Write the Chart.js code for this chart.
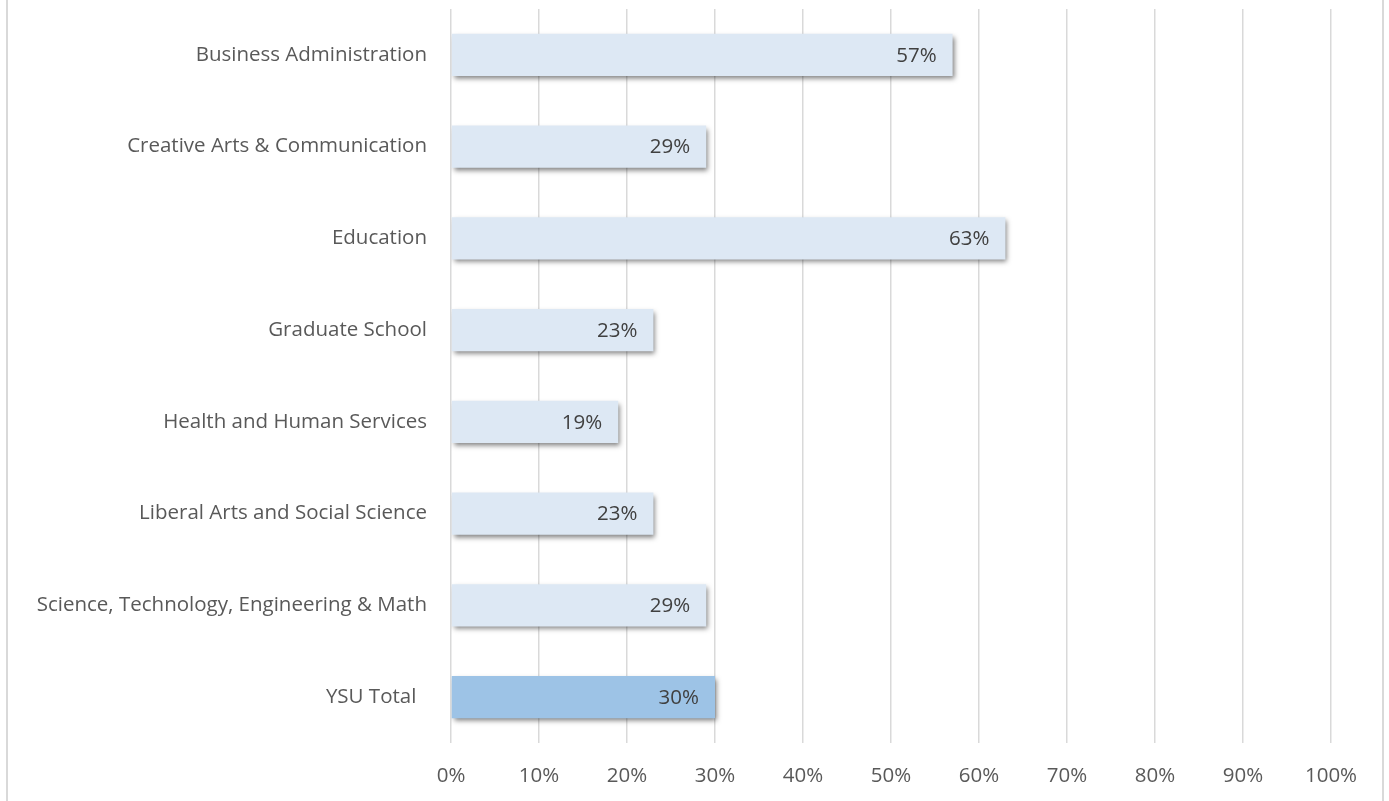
<!DOCTYPE html>
<html>
<head>
<meta charset="utf-8">
<script src="https://cdn.jsdelivr.net/npm/chart.js@4"></script>
<style>
    html, body { margin: 0; padding: 0; background: #fff; }
    #wrap {
        position: relative;
        width: 1389px;
        height: 801px;
    }
    #frame {
        position: absolute;
        left: 6px; top: -2px;
        width: 1378px; height: 810px;
        border-left: 2px solid #d9d9d9;
        border-right: 2px solid #d9d9d9;
        box-sizing: border-box;
        pointer-events: none;
    }
    canvas { display: block; }
</style>
</head>
<body>
<div id="wrap">
    <canvas id="chart" width="1389" height="801"></canvas>
    <div id="frame"></div>
</div>
<script>
// === 데이터 ===
const categories = [
    'Business Administration',
    'Creative Arts & Communication',
    'Education',
    'Graduate School',
    'Health and Human Services',
    'Liberal Arts and Social Science',
    'Science, Technology, Engineering & Math',
    'YSU Total  '
];
const shares = [0.57, 0.29, 0.63, 0.23, 0.19, 0.23, 0.29, 0.30];
const xTicks = [0, 0.1, 0.2, 0.3, 0.4, 0.5, 0.6, 0.7, 0.8, 0.9, 1.0];

const FONT = "'Open Sans', 'Liberation Sans', sans-serif";
const lightBlue = '#dde8f4';
const totalBlue = '#9dc3e6';

// 막대 그림자 (엑셀 스타일)
const barShadow = {
    id: 'barShadow',
    beforeDatasetDraw(chart) {
        const ctx = chart.ctx;
        ctx.save();
        ctx.shadowColor = 'rgba(0, 0, 0, 0.5)';
        ctx.shadowBlur = 5;
        ctx.shadowOffsetX = 2;
        ctx.shadowOffsetY = 3;
    },
    afterDatasetDraw(chart) {
        chart.ctx.restore();
    }
};

// 막대 끝 안쪽에 값 라벨
const valueLabels = {
    id: 'valueLabels',
    afterDatasetsDraw(chart) {
        const ctx = chart.ctx;
        const meta = chart.getDatasetMeta(0);
        ctx.save();
        ctx.font = "20.5px " + FONT;
        ctx.fillStyle = '#404040';
        ctx.textAlign = 'right';
        ctx.textBaseline = 'middle';
        meta.data.forEach((bar, i) => {
            const txt = Math.round(shares[i] * 100) + '%';
            ctx.fillText(txt, bar.x - 16, bar.y + 1);
        });
        ctx.restore();
    }
};

new Chart(document.getElementById('chart'), {
    type: 'bar',
    data: {
        labels: categories,
        datasets: [{
            data: shares,
            backgroundColor: shares.map((v, i) => i === shares.length - 1 ? totalBlue : lightBlue),
            borderWidth: 0,
            barPercentage: 0.46,
            categoryPercentage: 1.0
        }]
    },
    options: {
        indexAxis: 'y',
        responsive: false,
        animation: false,
        layout: { padding: { top: 9, right: 58, bottom: 0, left: 0 } },
        plugins: {
            legend: { display: false },
            tooltip: { enabled: false }
        },
        scales: {
            x: {
                min: 0,
                max: 1,
                afterBuildTicks: (scale) => { scale.ticks = xTicks.map(v => ({ value: v })); },
                afterFit: (scale) => { scale.height = 58; },
                grid: { color: '#d9d9d9', lineWidth: 1.5, drawTicks: false },
                border: { display: false },
                ticks: {
                    padding: 21,
                    color: '#595959',
                    font: { family: FONT, size: 20.5 },
                    callback: (v) => Math.round(v * 100) + '%'
                }
            },
            y: {
                afterFit: (scale) => {
                    scale.width = 451;
                    scale.paddingTop = 0;
                    scale.paddingBottom = 0;
                },
                grid: { display: false },
                border: { display: false },
                ticks: {
                    padding: 16,
                    color: '#595959',
                    font: { family: FONT, size: 20.5 }
                }
            }
        }
    },
    plugins: [barShadow, valueLabels]
});
</script>
</body>
</html>
